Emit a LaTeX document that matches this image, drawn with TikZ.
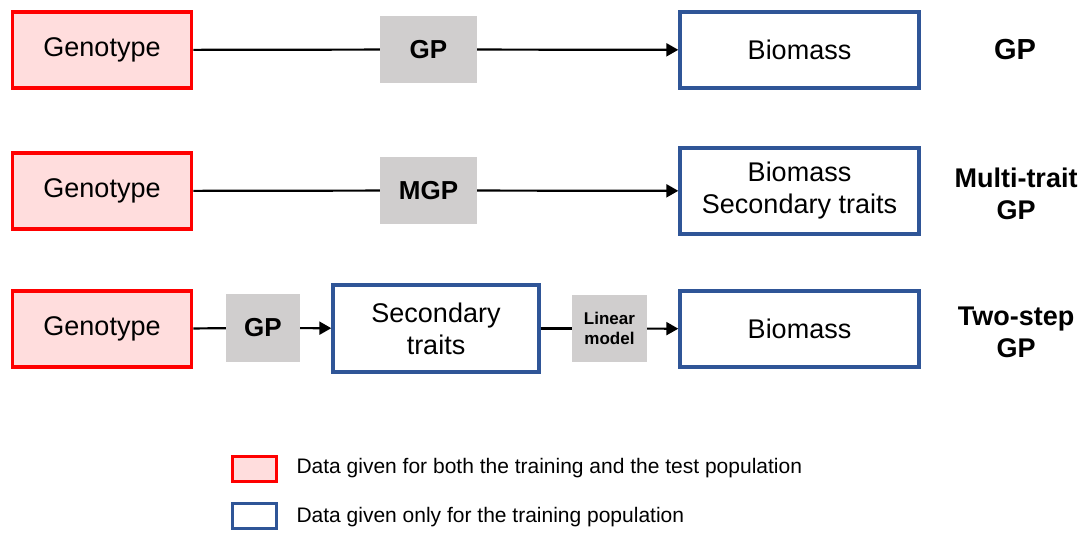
\documentclass[tikz,border=0pt]{standalone}
\usepackage{fontspec}
\setmainfont{Liberation Sans}
\usepackage{tikz}
\usetikzlibrary{arrows.meta}

\definecolor{genored}{RGB}{255,0,0}
\definecolor{genofill}{RGB}{255,221,221}
\definecolor{trainblue}{RGB}{47,85,151}
\definecolor{modelgray}{RGB}{208,206,206}

\begin{document}
\begin{tikzpicture}[x=1pt,y=-1pt,
    geno/.style={draw=genored,fill=genofill,line width=3.6pt,minimum width=179pt,minimum height=76pt,inner sep=0pt,font=\fontsize{27}{32}\selectfont},
    train/.style={draw=trainblue,fill=white,line width=3.4pt,inner sep=0pt,align=center,font=\fontsize{27}{32}\selectfont},
    model/.style={fill=modelgray,inner sep=0pt,minimum height=67pt,align=center,font=\bfseries\fontsize{26}{30}\selectfont},
    method/.style={align=center,font=\bfseries\fontsize{27}{32}\selectfont},
    link/.style={line width=2.2pt},
    arr/.style={line width=2.2pt,-{Triangle[length=12pt,width=13pt]}}]
        \useasboundingbox (0,0) rectangle (1089,533);
        % GP
        \node[geno] (geno1) at (102,50) {Genotype};
        \node[model,minimum width=97pt] (gp1) at (428.5,49.5) {GP};
        \node[train,minimum width=239pt,minimum height=76pt] (bio1) at (799.5,50) {Biomass};
        \node[method,font=\bfseries\fontsize{29}{32}\selectfont] (lab1) at (1015,50) {GP};
        \draw[link] (geno1) -- (gp1);
        \draw[arr] (gp1) -- (bio1);
        % multi-trait GP
        \node[geno] (geno2) at (102,191) {Genotype};
        \node[model,minimum width=97pt] (mgp) at (428.5,190.5) {MGP};
        \node[train,minimum width=239pt,minimum height=86pt] (bio2) at (799.5,191) {Biomass\\Secondary traits};
        \node[method] (lab2) at (1016,194) {Multi-trait\\GP};
        \draw[link] (geno2) -- (mgp);
        \draw[arr] (mgp) -- (bio2);
        % two-step GP
        \node[geno] (geno3) at (102,329) {Genotype};
        \node[model,minimum width=74pt,minimum height=68pt] (gp3) at (263,328) {GP};
        \node[train,minimum width=206pt,minimum height=87pt] (sec) at (436,328.5) {Secondary\\traits};
        \node[model,minimum width=75pt,font=\bfseries\fontsize{17}{20}\selectfont] (lin) at (609.5,328.5) {Linear\\model};
        \node[train,minimum width=239pt,minimum height=76pt] (bio3) at (799.5,329) {Biomass};
        \node[method] (lab3) at (1016,332) {Two-step\\GP};
        \draw[link] (geno3) -- (gp3);
        \draw[arr] (gp3) -- (sec);
        \draw[link] (sec) -- (lin);
        \draw[arr] (lin) -- (bio3);
        % legend
        \node[geno,minimum width=44pt,minimum height=25pt,line width=3pt] (keyboth) at (254,468.5) {};
        \node[train,minimum width=44pt,minimum height=25pt,line width=3pt] (keytrain) at (254,516) {};
        \node[anchor=west,font=\fontsize{21}{24}\selectfont] (txtboth) at (293,468) {Data given for both the training and the test population};
        \node[anchor=west,font=\fontsize{21}{24}\selectfont] (txttrain) at (293,517) {Data given only for the training population};
\end{tikzpicture}
\end{document}
